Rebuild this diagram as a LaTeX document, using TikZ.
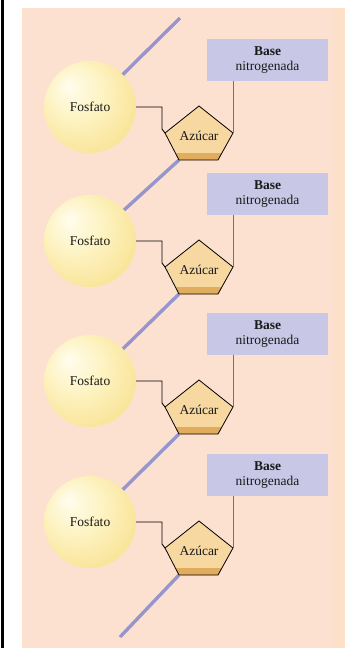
\documentclass[tikz,border=0pt]{standalone}
\usepackage{fontspec}
\setmainfont{Liberation Serif}
\usetikzlibrary{calc}
\definecolor{peach}{RGB}{253,225,208}
\definecolor{peachR}{RGB}{252,224,200}
\definecolor{bbone}{RGB}{150,150,205}
\definecolor{boxfill}{RGB}{201,199,230}
\definecolor{pentfillc}{RGB}{246,216,160}
\definecolor{pentbandc}{RGB}{226,172,95}
\definecolor{fosA}{RGB}{255,253,238}
\definecolor{fosB}{RGB}{253,242,192}
\definecolor{fosC}{RGB}{247,222,135}
\definecolor{fosD}{RGB}{232,192,92}
\pgfdeclareradialshading{fosball}{\pgfpoint{-12bp}{12bp}}{color(0bp)=(fosA); color(16bp)=(fosB); color(38bp)=(fosC); color(50bp)=(fosD)}
\pgfdeclarelayer{bg}
\pgfdeclarelayer{lines}
\pgfsetlayers{bg,lines,main}
\begin{document}
\begin{tikzpicture}[x=1pt,y=-1pt,
  lbl/.style={font=\fontsize{13.5}{15.5}\selectfont, text=black!90},
  sphere/.style={circle, minimum size=92pt, inner sep=0pt, shading=fosball, lbl},
  basebox/.style={rectangle, fill=boxfill, minimum width=121pt, minimum height=42pt, inner sep=0pt, align=center, lbl},
  backbone/.style={draw=bbone, line width=3.4pt},
  connector/.style={draw=black, line width=0.9pt},
  baseline/.style={draw=black!55, line width=0.6pt},
  pentline/.style={draw=black, line width=0.8pt, line join=miter}]
\useasboundingbox (0,0) rectangle (345,648);
\begin{pgfonlayer}{bg}
\fill[white] (0,0) rectangle (345,648);
\fill[peach] (22,8) rectangle (345,648);
\fill[peachR] (333,8) rectangle (345,648);
\draw[black, line width=3pt] (2.5,0) -- (2.5,648);
\end{pgfonlayer}
\coordinate (top) at (180,18);
\coordinate (bot) at (120,637);
\foreach \k/\c in {1/107,2/241,3/381,4/522} {
  \node[sphere] (F\k) at (90,\c) {Fosfato};
  \coordinate (Pt\k) at (199,\c-1);
  \coordinate (Pl\k) at (165,\c+26);
  \coordinate (Pr\k) at (233,\c+26);
  \coordinate (Pbl\k) at (179,\c+53);
  \coordinate (Pbr\k) at (218,\c+53);
  \fill[pentfillc] (Pt\k) -- (Pr\k) -- (Pbr\k) -- (Pbl\k) -- (Pl\k) -- cycle;
  \fill[pentbandc] (175.4,\c+46) -- (221.9,\c+46) -- (Pbr\k) -- (Pbl\k) -- cycle;
  \draw[pentline] (Pt\k) -- (Pr\k) -- (Pbr\k) -- (Pbl\k) -- (Pl\k) -- cycle;
  \node[lbl] (A\k) at (199,\c+29) {Azúcar};
  \node[basebox] (B\k) at (267.5,\c-47) {\textbf{Base}\\nitrogenada};
  \draw[baseline] (B\k.south -| Pr\k) -- (Pr\k);
  \draw[connector] (F\k.east) -| ($(Pl\k)+(-3,-4)$) -- (Pl\k);
}
\begin{pgfonlayer}{lines}
\draw[backbone] (top) -- (F1.center);
\draw[backbone] (Pbl1) -- (F2.center);
\draw[backbone] (Pbl2) -- (F3.center);
\draw[backbone] (Pbl3) -- (F4.center);
\draw[backbone] (Pbl4) -- (bot);
\end{pgfonlayer}
\end{tikzpicture}
\end{document}
